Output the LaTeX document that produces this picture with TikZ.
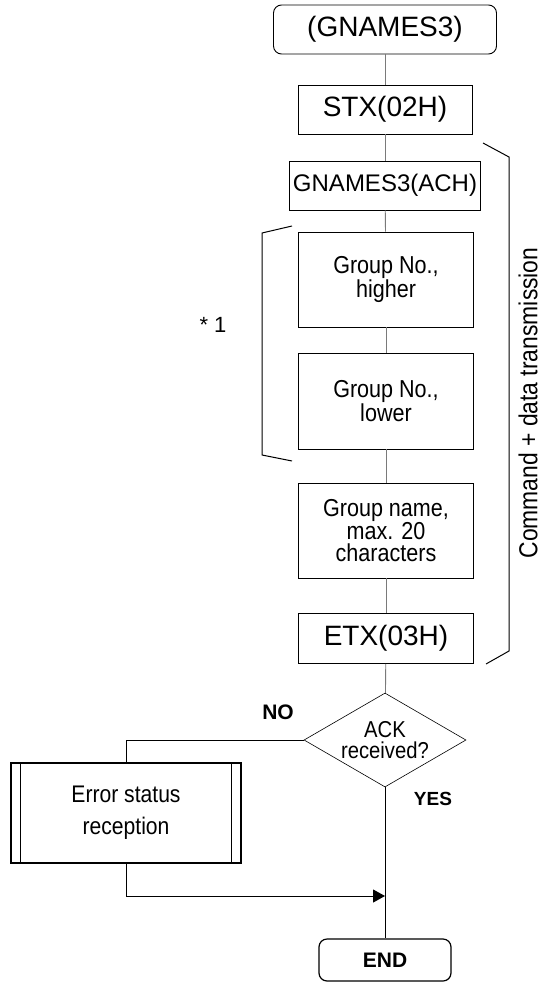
\documentclass[tikz,border=0pt]{standalone}
\usepackage{fontspec}
\setmainfont{Liberation Sans}
\newfontfamily\narrowfont[FakeStretch=0.88]{Liberation Sans}
\usepackage{tikz}
\usetikzlibrary{arrows.meta,shapes.geometric,calc}
\definecolor{flowGray}{HTML}{7A7A7A}

\begin{document}
\begin{tikzpicture}[x=1pt,y=-1pt]
    \tikzset{
      gbox/.style={draw=black, line width=0.9pt, inner sep=0pt, align=center},
      gterm/.style={gbox, rounded corners=8pt},
      gwide/.style={font=\fontsize{28}{30}\selectfont},
      gnarrow/.style={font=\narrowfont\fontsize{24.5}{22}\selectfont},
      glink/.style={draw=flowGray, line width=0.9pt},
      gflow/.style={draw=black, line width=1pt},
      gmark/.style={font=\bfseries\fontsize{21}{21}\selectfont}
    }
    \useasboundingbox (0,0) rectangle (542,982);

    % Command and data frame
    \node[gterm, gwide, minimum width=223, minimum height=49] (start) at (385,29.5) {(GNAMES3)};
    \node[gbox, gwide, minimum width=174, minimum height=49] (stx) at (385,109.5) {STX(02H)};
    \node[gbox, font=\fontsize{24}{26}\selectfont, minimum width=191, minimum height=49] (cmd) at (385,185.5) {GNAMES3(ACH)};
    \node[gbox, gnarrow, minimum width=175, minimum height=95] (grphi) at (386,279.5) {Group No.,\\higher};
    \node[gbox, gnarrow, minimum width=175, minimum height=96] (grplo) at (386,401) {Group No.,\\lower};
    \node[gbox, gnarrow, minimum width=175, minimum height=95] (grpname) at (386,530.5) {Group name,\\max. 20\\characters};
    \node[gbox, gwide, minimum width=175, minimum height=50] (etx) at (386,638.5) {ETX(03H)};

    \draw[glink] (start) -- (stx);
    \draw[glink] (stx) -- (cmd);
    \draw[glink] (cmd) -- (grphi);
    \draw[glink] (grphi) -- (grplo);
    \draw[glink] (grplo) -- (grpname);
    \draw[glink] (grpname) -- (etx);

    % Brackets
    \draw[line width=1pt] (292,226) -- (262,233) -- (262,455) -- (292,461);
    \node[font=\fontsize{22}{22}\selectfont] (star) at (213,325) {* 1};
    \draw[line width=1pt] (483,143) -- (509,157) -- (509,651) -- (486,664);
    \node[rotate=90, inner sep=1pt, font=\narrowfont\fontsize{26}{28}\selectfont] (cmdlabel) at (528,403) {Command + data transmission};

    % ACK check
    \node[diamond, draw=black, line width=0.6pt, shape aspect=1.72, minimum width=162, minimum height=94,
          inner sep=0pt, align=center, font=\narrowfont\fontsize{23}{21}\selectfont] (ack) at (385,740) {ACK\\received?};
    \draw[glink] (etx) -- (ack);

    \node[gbox, line width=1.2pt, font=\narrowfont\fontsize{24}{32}\selectfont, minimum width=230, minimum height=100] (err) at (126,813) {Error status\\reception};
    \draw[line width=1pt] ([xshift=10]err.north west) -- ([xshift=10]err.south west);
    \draw[line width=1pt] ([xshift=-10]err.north east) -- ([xshift=-10]err.south east);

    \node[gterm, gmark, line width=1.2pt, minimum width=132, minimum height=42] (end) at (385,960) {END};

    \node[gmark] (no) at (278,712) {NO};
    \node[gmark, font=\bfseries\fontsize{19}{19}\selectfont] (yes) at (433,799) {YES};

    \coordinate (merge) at (385,896);
    \draw[gflow] (ack.west) -| (err.north);
    \draw[gflow, -{Triangle[length=12pt,width=13pt]}] (err.south) |- (merge);
    \draw[gflow] (ack.south) -- (end.north);
  \end{tikzpicture}
\end{document}
